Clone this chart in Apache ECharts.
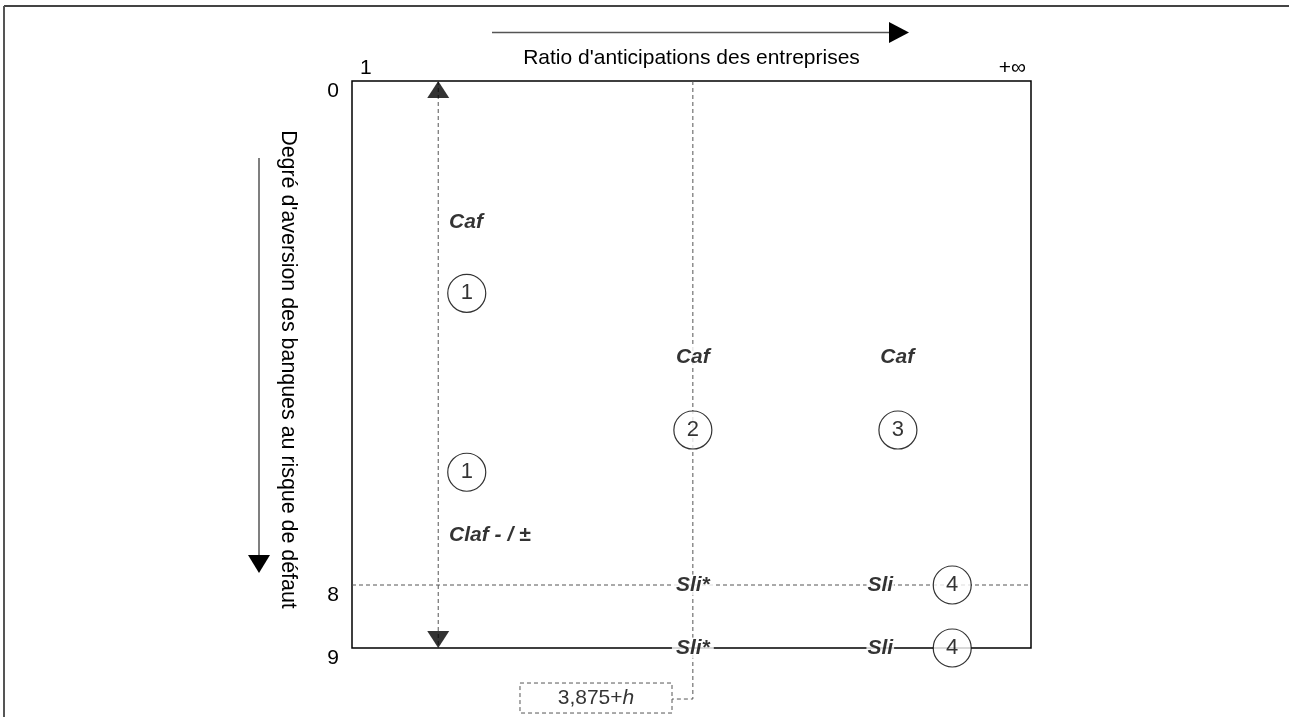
<!DOCTYPE html>
<html><head><meta charset="utf-8">
<script src="https://cdn.jsdelivr.net/npm/echarts@6/dist/echarts.min.js"></script>
<style>html,body{margin:0;padding:0;background:#fff}#c{width:1289px;height:717px}</style>
</head><body><div id="c"></div>
<script>
// ---- data ----
const xTickValues = [0, 100];
const xTickLabels = ['1', '+\u221E'];
const yTickValues = [0, 8, 9];
const yTickLabels = ['0', '8', '9'];
const xAxisTitle = "Ratio d'anticipations des entreprises";
const yAxisTitle = "Degré d'aversion des banques au risque de défaut";

const circleLabels = ['1', '1', '2', '3', '4', '4'];
const circleX = [16.9, 16.9, 50.2, 80.4, 88.4, 88.4];
const circleY = [3.37, 6.21, 5.54, 5.54, 8, 9];

const annoText = ['Caf', 'Claf - / \u00B1', 'Caf', 'Caf', 'Sli*', 'Sli', 'Sli*', 'Sli'];
const annoX = [14.3, 14.3, 50.2, 80.3, 50.2, 77.8, 50.2, 77.8];
const annoY = [2.24, 7.21, 4.38, 4.38, 8, 8, 9, 9];

const levelY = 8;              // dashed horizontal level
const thresholdX = 50.2;       // 3,875+h
const thresholdLabel = '3,875+';
const thresholdItalic = 'h';
const calloutY = 9.81;
const boxX = [24.74, 47.13];
const boxY = [9.556, 10.032];
const arrowX = 12.7;           // double arrow

// ---- chart ----
const FONT = 'Liberation Sans, Arial, sans-serif';
const chart = echarts.init(document.getElementById('c'), null, {renderer: 'canvas'});
const dashed = {color: '#555', width: 1, type: [4, 3]};
const boldItalic = {fontFamily: FONT, fontSize: 21, fontWeight: 'bold', fontStyle: 'italic', color: '#000'};

const annoData = annoText.map((t, i) => {
  const d = {value: [annoX[i], annoY[i], t]};
  if (i < 2) d.label = {align: 'left', backgroundColor: 'transparent', padding: 0};
  else if (t === 'Sli') d.label = {padding: [0, 1]};
  return d;
});

chart.setOption({
  animation: false,
  backgroundColor: '#fff',
  grid: {left: 352, top: 81, width: 679, height: 567, show: true, borderColor: '#000', borderWidth: 1.5, backgroundColor: 'transparent'},
  xAxis: {
    type: 'value', position: 'top', min: 0, max: 100, interval: 100,
    name: xAxisTitle, nameLocation: 'middle', nameGap: 12, nameMoveOverlap: false,
    nameTextStyle: {fontFamily: FONT, fontSize: 21, color: '#000'},
    axisLine: {show: false}, axisTick: {show: false}, splitLine: {show: false},
    axisLabel: {
      margin: 2, fontFamily: FONT, fontSize: 21, color: '#000',
      alignMinLabel: 'left', alignMaxLabel: 'right',
      formatter: v => { const i = xTickValues.indexOf(v); return i === 0 ? '{l|' + xTickLabels[0] + '}' : (i === 1 ? '{r|' + xTickLabels[1] + '}' : ''); },
      rich: {l: {fontFamily: FONT, fontSize: 21, color: '#000', padding: [0, 0, 0, 8]}, r: {fontFamily: FONT, fontSize: 21, color: '#000', padding: [0, 5, 0, 0]}}
    }
  },
  yAxis: {
    type: 'value', inverse: true, min: 0, max: 9, interval: 1,
    name: yAxisTitle, nameLocation: 'middle', nameGap: 54, nameRotate: -90, nameMoveOverlap: false,
    nameTextStyle: {fontFamily: FONT, fontSize: 21.4, color: '#000', padding: [0, 0, 0, 10]},
    axisLine: {show: false}, axisTick: {show: false}, splitLine: {show: false},
    axisLabel: {
      margin: 13, fontFamily: FONT, fontSize: 21, color: '#000', verticalAlign: 'top',
      formatter: v => { const i = yTickValues.indexOf(v); return i >= 0 ? yTickLabels[i] : ''; }
    }
  },
  graphic: [
    {type: 'line', shape: {x1: 4, y1: 6, x2: 1289, y2: 6}, style: {stroke: '#444', lineWidth: 2}},
    {type: 'line', shape: {x1: 4, y1: 6, x2: 4, y2: 717}, style: {stroke: '#555', lineWidth: 2}},
    {type: 'line', shape: {x1: 492, y1: 32.5, x2: 892, y2: 32.5}, style: {stroke: '#555', lineWidth: 1.5}},
    {type: 'polygon', shape: {points: [[889, 22], [889, 43], [909, 32.5]]}, style: {fill: '#000'}},
    {type: 'line', shape: {x1: 259, y1: 158, x2: 259, y2: 558}, style: {stroke: '#555', lineWidth: 1.5}},
    {type: 'polygon', shape: {points: [[248, 555], [270, 555], [259, 573]]}, style: {fill: '#000'}}
  ],
  series: [
    {type: 'line', symbol: 'none', clip: false, silent: true, z: 2, lineStyle: dashed,
     data: [[0, levelY], [100, levelY]]},
    {type: 'line', symbol: 'none', clip: false, silent: true, z: 2, lineStyle: dashed,
     data: [[thresholdX, 0], [thresholdX, calloutY], [boxX[1], calloutY]]},
    {type: 'line', symbol: 'none', clip: false, silent: true, z: 2, lineStyle: dashed,
     data: [[boxX[0], boxY[0]], [boxX[1], boxY[0]], [boxX[1], boxY[1]], [boxX[0], boxY[1]], [boxX[0], boxY[0]]]},
    {type: 'line', symbol: 'none', clip: false, silent: true, z: 2, lineStyle: dashed,
     data: [[arrowX, 0], [arrowX, 9]]},
    {type: 'scatter', clip: false, silent: true, z: 3, symbol: 'triangle', symbolSize: [22, 17],
     itemStyle: {color: '#000'},
     data: [
       {value: [arrowX, 0], symbolOffset: [0, 8.5]},
       {value: [arrowX, 9], symbolRotate: 180, symbolOffset: [0, -8.5]}
     ]},
    {type: 'scatter', clip: false, silent: true, z: 4, symbol: 'circle', symbolSize: 38,
     itemStyle: {color: '#fff', borderColor: '#000', borderWidth: 1.2},
     label: {show: true, position: 'inside', fontFamily: FONT, fontSize: 22, color: '#000', formatter: p => p.data[2]},
     data: circleLabels.map((t, i) => [circleX[i], circleY[i], t])},
    {type: 'scatter', clip: false, silent: true, z: 5, symbolSize: 1,
     itemStyle: {color: 'rgba(0,0,0,0)'},
     label: Object.assign({show: true, position: 'inside', backgroundColor: '#fff', padding: [0, 4],
       formatter: p => p.data.value[2]}, boldItalic),
     data: annoData},
    {type: 'scatter', clip: false, silent: true, z: 5, symbolSize: 1,
     itemStyle: {color: 'rgba(0,0,0,0)'},
     label: {show: true, position: 'inside', formatter: '{n|' + thresholdLabel + '}{i|' + thresholdItalic + '}',
       rich: {n: {fontFamily: FONT, fontSize: 21, color: '#000'}, i: {fontFamily: FONT, fontSize: 21, fontStyle: 'italic', color: '#000'}}},
     data: [[(boxX[0] + boxX[1]) / 2, (boxY[0] + boxY[1]) / 2]]}
  ]
});
</script></body></html>
